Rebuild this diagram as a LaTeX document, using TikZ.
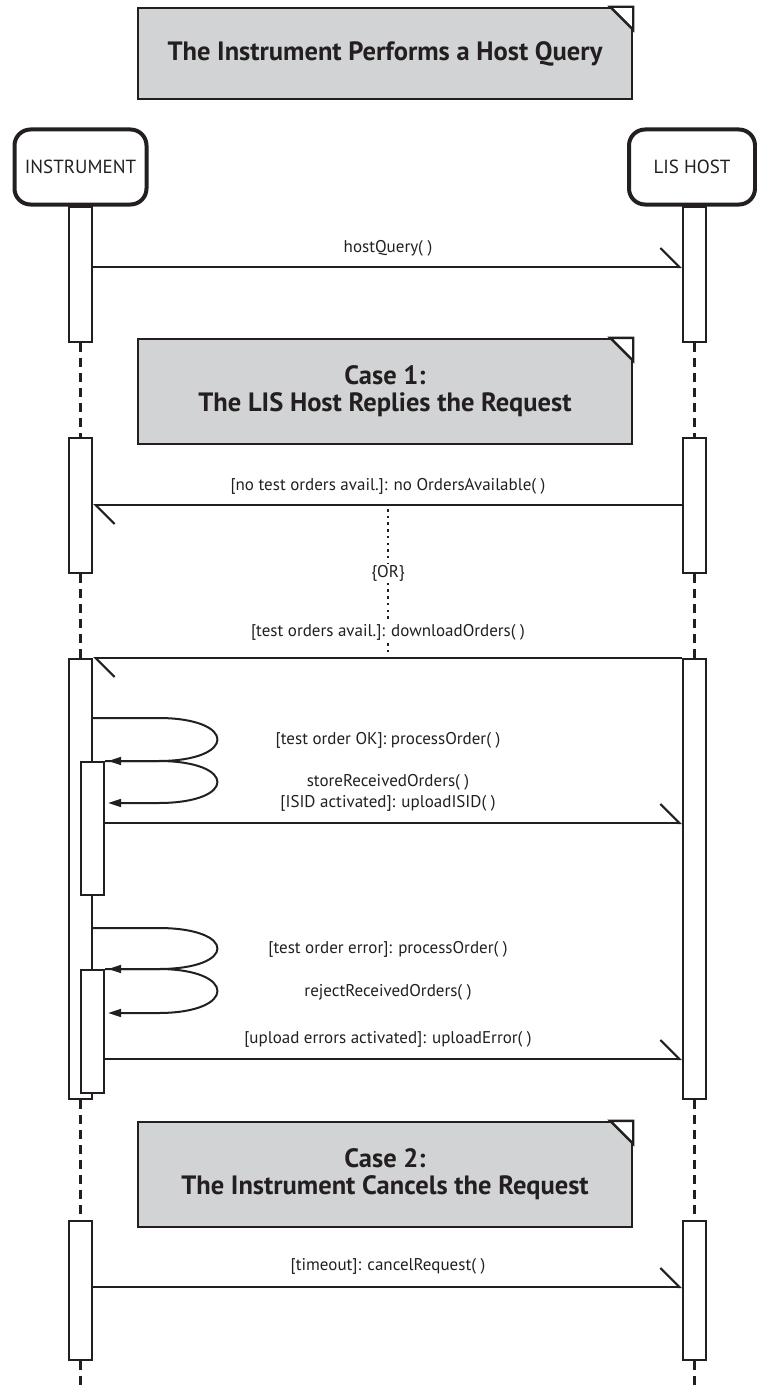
\documentclass[tikz,border=0pt]{standalone}
\usepackage{fontspec}
\setmainfont{PT Sans}
\usetikzlibrary{arrows.meta}

\definecolor{ink}{HTML}{231F20}
\definecolor{notegray}{HTML}{D1D3D4}

\tikzset{
  actor/.style={draw=ink, line width=4pt, rounded corners=16pt, minimum width=132pt,
    minimum height=75pt, font=\fontsize{19}{22}\selectfont, text=ink},
  actbar/.style={draw=ink, fill=white, line width=2.4pt, minimum width=23pt,
    inner sep=0pt, anchor=north},
  note/.style={draw=ink, fill=notegray, line width=2.4pt, minimum width=494pt,
    align=center, font=\bfseries\fontsize{26.5}{27}\selectfont, text=ink},
  fold/.style={draw=ink, fill=white, line width=2.4pt},
  msg/.style={draw=ink, line width=2pt, -{Straight Barb[harpoon, length=19pt, width=38pt]}},
  selfmsg/.style={draw=ink, line width=2pt, -{Triangle[length=13pt, width=8pt]}},
  life/.style={draw=ink, line width=2.4pt, dash pattern=on 9pt off 6pt},
  orline/.style={draw=ink, line width=2.5pt, dash pattern=on 2.5pt off 4.2pt},
  lbl/.style={font=\fontsize{17}{20}\selectfont, text=ink, inner sep=1pt}
}

\begin{document}
\begin{tikzpicture}[x=1pt, y=-1pt]
    \useasboundingbox (0,0) rectangle (757,1386);

    % notes
    \node[note, minimum height=91pt] (title) at (385,53.5) {The Instrument Performs a Host Query};
    \filldraw[fold] ([xshift=-23pt]title.north east) -- (title.north east) -- ([yshift=-23pt]title.north east) -- cycle;
    \node[note, minimum height=105pt] (case1) at (385,391.5) {Case 1:\\The LIS Host Replies the Request};
    \filldraw[fold] ([xshift=-23pt]case1.north east) -- (case1.north east) -- ([yshift=-23pt]case1.north east) -- cycle;
    \node[note, minimum height=105pt] (case2) at (385,1174.5) {Case 2:\\The Instrument Cancels the Request};
    \filldraw[fold] ([xshift=-23pt]case2.north east) -- (case2.north east) -- ([yshift=-23pt]case2.north east) -- cycle;

    % participants
    \node[actor] (inst) at (80.5,167) {INSTRUMENT};
    \node[actor, minimum width=126pt] (host) at (692,167) {LIS HOST};

    % activation bars
    \node[actbar, minimum height=135pt] (ib1) at (80.5,206) {};
    \node[actbar, minimum height=135pt] (hb1) at (694.5,206) {};
    \node[actbar, minimum height=135pt] (ib2) at (80.5,437) {};
    \node[actbar, minimum height=135pt] (hb2) at (694.5,437) {};
    \node[actbar, minimum height=440pt] (ib3) at (80.5,658) {};
    \node[actbar, minimum height=440pt] (hb3) at (694.5,658) {};
    \node[actbar, minimum height=133pt] (nb1) at (92.5,761) {};
    \node[actbar, minimum height=123pt] (nb2) at (92.5,969) {};
    \node[actbar, minimum height=139pt] (ib4) at (80.5,1220) {};
    \node[actbar, minimum height=139pt] (hb4) at (694.5,1220) {};

    % lifelines
    \coordinate (iend) at (80.5,1386);
    \coordinate (hend) at (694.5,1386);
    \draw[life] (ib1) -- (ib2);
    \draw[life] (hb1) -- (hb2);
    \draw[life] (ib2) -- (ib3);
    \draw[life] (hb2) -- (hb3);
    \draw[life] (ib3) -- (ib4);
    \draw[life] (hb3) -- (hb4);
    \draw[life] (ib4.south) -- (iend);
    \draw[life] (hb4.south) -- (hend);

    % messages
    \draw[msg] ([yshift=-61pt]ib1.north east) -- ([yshift=-61pt]hb1.north west);
    \draw[msg] ([yshift=-68pt]hb2.north west) -- ([yshift=-68pt]ib2.north east);
    \draw[msg] (hb3.north west) -- (ib3.north east);
    \draw[msg] ([yshift=-62pt]nb1.north east) -- ([yshift=-165pt]hb3.north west);
    \draw[msg] ([yshift=-90pt]nb2.north east) -- ([yshift=-401pt]hb3.north west);
    \draw[msg] ([yshift=-67pt]ib4.north east) -- ([yshift=-67pt]hb4.north west);

    % self calls
    \draw[selfmsg] ([yshift=-60pt]ib3.north east) -- ++(65,0) .. controls +(79,0) and +(79,0) .. ++(0,43) -- ([xshift=3pt]nb1.north east);
    \draw[selfmsg] (nb1.north east) -- ++(53,0) .. controls +(79,0) and +(79,0) .. ++(0,42) -- ([xshift=3pt, yshift=-42pt]nb1.north east);
    \draw[selfmsg] ([yshift=-270pt]ib3.north east) -- ++(65,0) .. controls +(79,0) and +(79,0) .. ++(0,41) -- ([xshift=3pt]nb2.north east);
    \draw[selfmsg] (nb2.north east) -- ++(53,0) .. controls +(79,0) and +(79,0) .. ++(0,44) -- ([xshift=3pt, yshift=-44pt]nb2.north east);

    % alternative
    \coordinate (orTop) at (388,509);
    \coordinate (orBot) at (388,656);
    \draw[orline] (orTop) -- (orBot);

    % labels
    \node[lbl] (l1) at (388,248) {hostQuery( )};
    \node[lbl] (l2) at (388,486) {[no test orders avail.]: no OrdersAvailable( )};
    \node[lbl, fill=white] (lor) at (388,573) {\{OR\}};
    \node[lbl, fill=white] (l3) at (388,632) {[test orders avail.]: downloadOrders( )};
    \node[lbl] (l4) at (388,740) {[test order OK]: processOrder( )};
    \node[lbl] (l5) at (388,782) {storeReceivedOrders( )};
    \node[lbl] (l6) at (388,803) {[ISID activated]: uploadISID( )};
    \node[lbl] (l7) at (388,949) {[test order error]: processOrder( )};
    \node[lbl] (l8) at (388,992) {rejectReceivedOrders( )};
    \node[lbl] (l9) at (388,1039) {[upload errors activated]: uploadError( )};
    \node[lbl] (l10) at (388,1266) {[timeout]: cancelRequest( )};
\end{tikzpicture}
\end{document}
